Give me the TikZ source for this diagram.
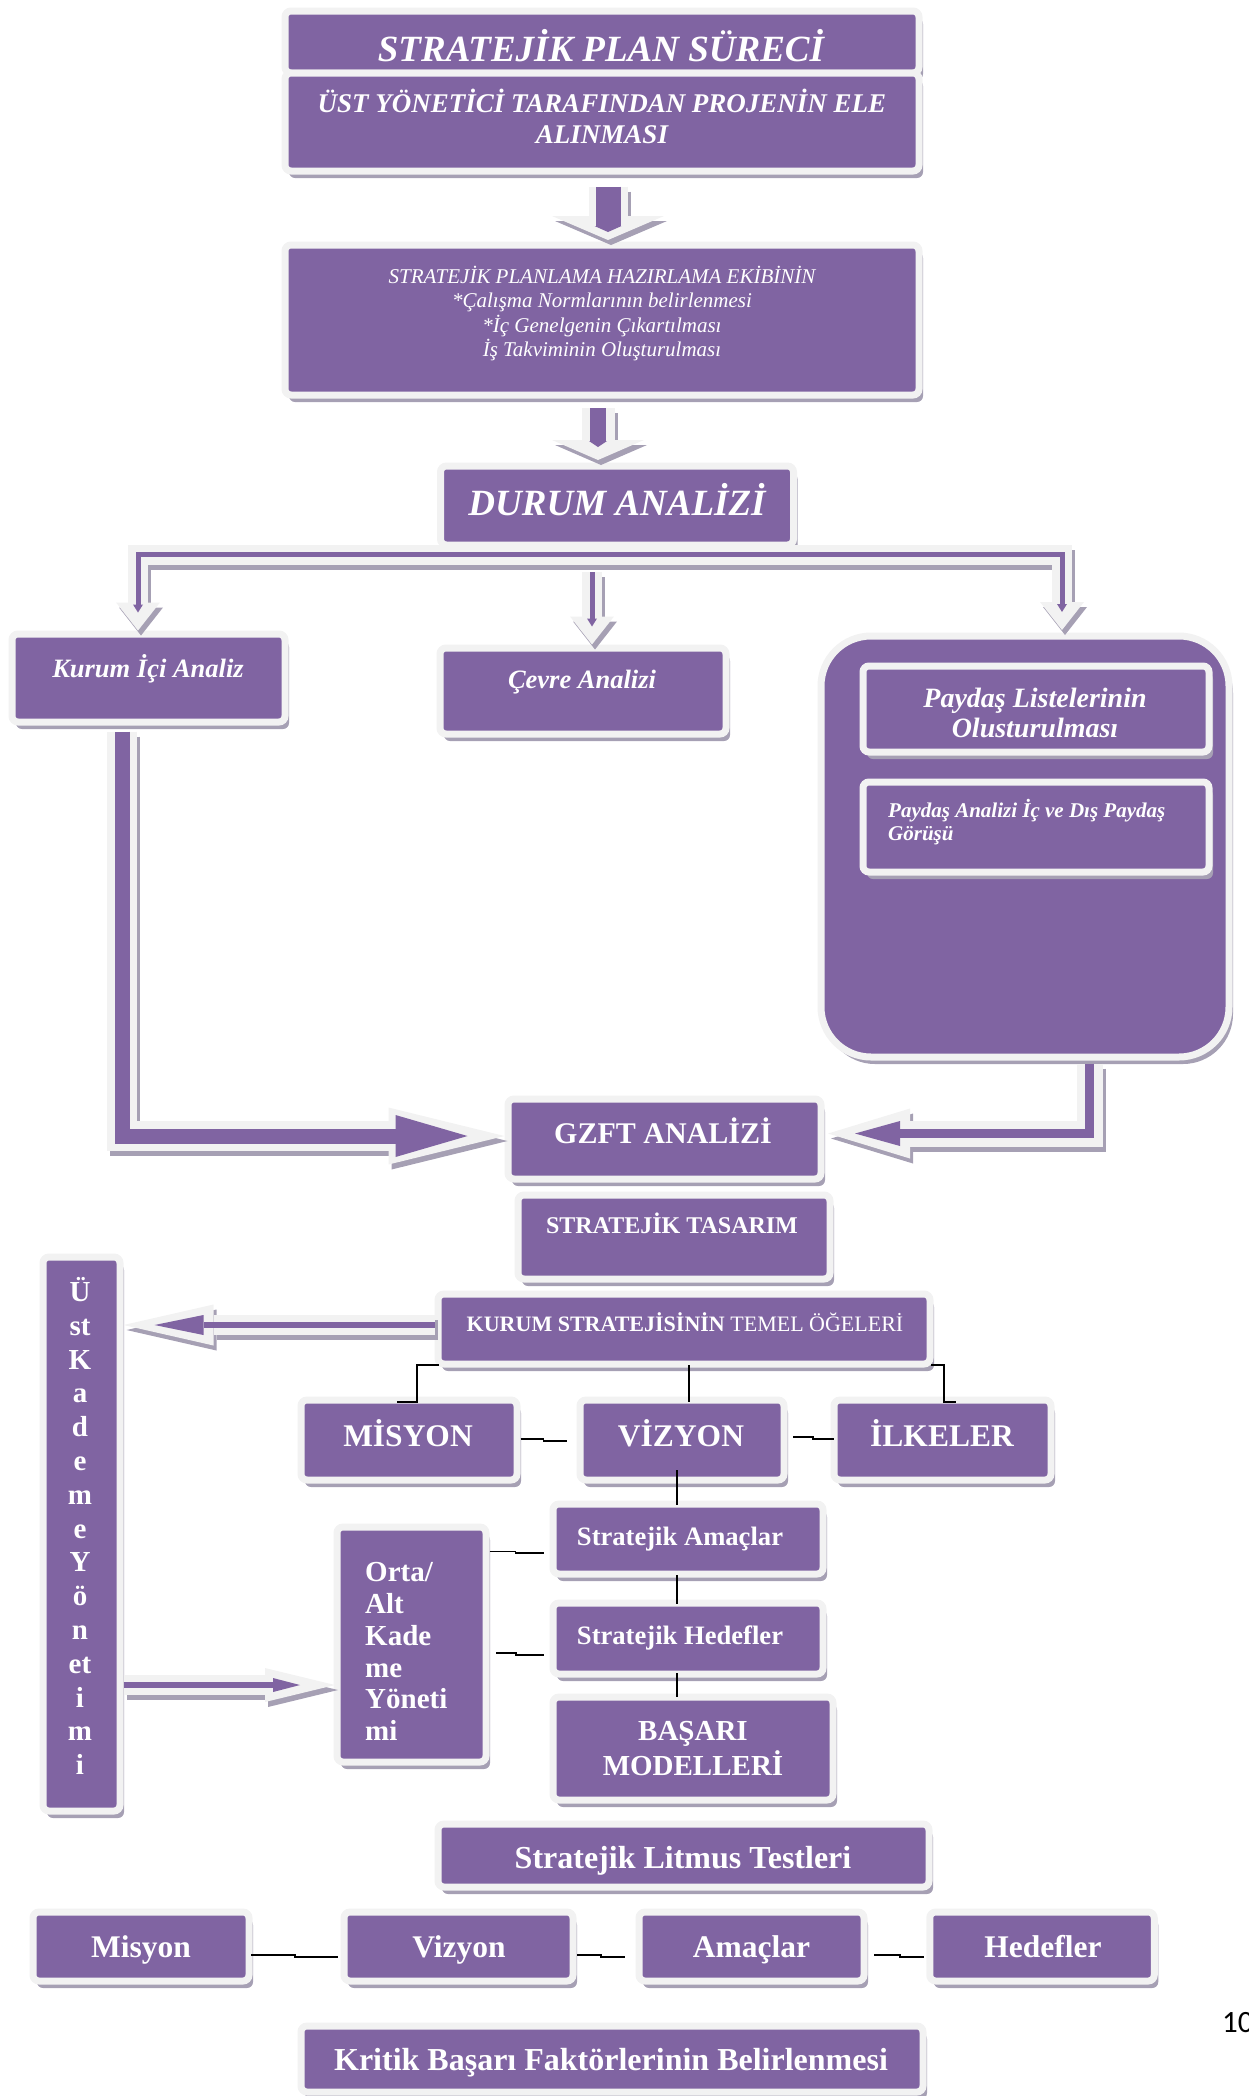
\documentclass[tikz,border=0pt]{standalone}
\usepackage{fontspec}
\setmainfont{Liberation Serif}
\newfontfamily\sayfafont{Carlito}
\usepackage{xcolor}
\usepackage{tikz}
\usetikzlibrary{arrows.meta,shadows}
\definecolor{mor}{RGB}{128,100,162}
\definecolor{kenar}{RGB}{242,242,242}
\definecolor{golge}{RGB}{166,160,180}
\tikzset{ok/.style n args={7}{draw=kenar, line width=#2,
    -{Triangle[width=#5,length=#6,line width=0pt]},
    preaction={draw=golge, line width=#2, -{Triangle[width=#5,length=#6,line width=0pt]},
      transform canvas={shift={(3pt,-5pt)}}},
    postaction={draw=mor, line width=#1, shorten >=#7, -{Triangle[width=#3,length=#4,line width=0pt]}}}}

\begin{document}
\begin{tikzpicture}[x=1pt,y=-1pt]
            \tikzstyle{every node}+=[inner sep=0pt]
            \tikzstyle{kutu}=[rectangle, rounded corners=6pt, fill=mor, draw=kenar, line width=7pt,
              drop shadow={shadow xshift=4pt,shadow yshift=-7pt,fill=golge,opacity=1}]
            \tikzstyle{yazi}=[text=white]
            \tikzstyle{bag}=[draw=black, line width=1.8pt]
            \useasboundingbox (0,0) rectangle (1248,2096);
            \node[kutu, minimum width=634pt, minimum height=62pt] (baslik) at (602,42) {};
            \node[kutu, minimum width=634pt, minimum height=98pt] (ust) at (602,122) {};
            \node[kutu, minimum width=634pt, minimum height=150pt] (ekip) at (602,320) {};
            \node[kutu, minimum width=353pt, minimum height=79pt] (durum) at (617,505.5) {};
            \node[kutu, minimum width=273pt, minimum height=88pt] (kia) at (148.5,678) {};
            \node[kutu, minimum width=286pt, minimum height=86pt] (cevre) at (583,691) {};
            \node[kutu, rounded corners=50pt, minimum width=408pt, minimum height=421pt] (paydas) at (1025,846.5) {};
            \node[kutu, minimum width=346pt, minimum height=86pt] (pl) at (1036,709) {};
            \node[kutu, minimum width=346pt, minimum height=90pt] (pa) at (1036,827) {};
            \node[kutu, minimum width=313pt, minimum height=80pt] (gzft) at (664.5,1139) {};
            \node[kutu, minimum width=312pt, minimum height=84pt] (tasarim) at (674,1237) {};
            \node[kutu, minimum width=492pt, minimum height=70pt] (kurum) at (684,1329) {};
            \node[kutu, minimum width=216pt, minimum height=80pt] (misyon) at (409,1440) {};
            \node[kutu, minimum width=204pt, minimum height=80pt] (vizyon) at (682,1440) {};
            \node[kutu, minimum width=217pt, minimum height=80pt] (ilkeler) at (942.5,1440) {};
            \node[kutu, minimum width=270pt, minimum height=70pt] (amac) at (688,1539) {};
            \node[kutu, minimum width=270pt, minimum height=71pt] (hedef) at (688,1638.5) {};
            \node[kutu, minimum width=280pt, minimum height=103pt] (basari) at (693,1748.5) {};
            \node[kutu, minimum width=149pt, minimum height=235pt] (orta) at (411.5,1644.5) {};
            \node[kutu, minimum width=77pt, minimum height=554pt] (uk) at (81.5,1534) {};
            \node[kutu, minimum width=491pt, minimum height=63pt] (litmus) at (683.5,1855.5) {};
            \node[kutu, minimum width=216pt, minimum height=69pt] (misyon2) at (141,1946.5) {};
            \node[kutu, minimum width=229pt, minimum height=69pt] (vizyon2) at (458.5,1946.5) {};
            \node[kutu, minimum width=225pt, minimum height=69pt] (amaclar2) at (751.5,1946.5) {};
            \node[kutu, minimum width=224.5pt, minimum height=69pt] (hedefler2) at (1042,1946.5) {};
            \node[kutu, minimum width=622pt, minimum height=66pt] (kritik) at (612,2059) {};
            \draw[ok={25pt}{39pt}{27pt}{6pt}{112pt}{24pt}{8pt}] ([xshift=6pt,yshift=-12pt]ust.south) -- ([xshift=6pt,yshift=1.5pt]ekip.north);
            \draw[ok={16pt}{33pt}{18pt}{6pt}{92pt}{20pt}{13pt}] ([xshift=-4pt,yshift=-9.5pt]ekip.south) -- ([xshift=-19pt,yshift=2.5pt]durum.north);
            \draw[ok={5pt}{20pt}{10pt}{8pt}{44pt}{28pt}{18pt}] ([yshift=-6pt]durum.south) -| ([xshift=-10.5pt]kia.north);
            \draw[ok={5pt}{20pt}{10pt}{8pt}{44pt}{28pt}{18pt}] ([yshift=-6pt]durum.south) -| ([xshift=37pt,yshift=2.5pt]paydas.north);
            \draw[ok={5pt}{20pt}{10pt}{8pt}{44pt}{28pt}{18pt}] ([xshift=9pt,yshift=72.5pt]cevre.north) -- ([xshift=9pt]cevre.north);
            \draw[ok={15pt}{30pt}{42pt}{72pt}{57pt}{116pt}{37pt}] ([xshift=-26.5pt,yshift=-6pt]kia.south) |- ([yshift=3pt]gzft.west);
            \draw[ok={9pt}{26pt}{25pt}{45pt}{50pt}{82pt}{27pt}] ([xshift=64.5pt,yshift=-3pt]paydas.south) |- ([xshift=3.5pt,yshift=5.5pt]gzft.east);
            \draw[ok={6pt}{20pt}{20pt}{49pt}{41pt}{90pt}{31pt}] ([yshift=4pt]kurum.west) -- ([yshift=209pt]uk.east);
            \draw[ok={6pt}{20pt}{14pt}{27pt}{34pt}{70pt}{35pt}] ([yshift=-151pt]uk.east) -- ([xshift=1.5pt,yshift=-40.5pt]orta.west);
            \draw[bag] ([xshift=4.5pt,yshift=2.5pt]kurum.south west) -- ++(-22,0) |- ([xshift=-12pt,yshift=-5.5pt]misyon.north);
            \draw[bag] ([xshift=-2.5pt,yshift=2.5pt]kurum.south east) -- ++(13,0) |- ([xshift=13.5pt,yshift=-5.5pt]ilkeler.north);
            \draw[bag] ([xshift=5pt,yshift=2.5pt]kurum.south) -- ([xshift=7pt,yshift=-5.5pt]vizyon.north);
            \draw[bag] ([yshift=1pt]misyon.east) -- ++(23,0) |- ([xshift=-10pt,yshift=-1pt]vizyon.west);
            \draw[bag] ([xshift=5.5pt,yshift=3pt]vizyon.east) -- ++(20,0) |- ([xshift=3.5pt,yshift=1pt]ilkeler.west);
            \draw[bag] ([xshift=-5pt,yshift=13.5pt]vizyon.south) -- ([xshift=-11pt,yshift=-4.5pt]amac.north);
            \draw[bag] ([xshift=-11pt,yshift=2.5pt]amac.south) -- ([xshift=-11pt,yshift=-4.5pt]hedef.north);
            \draw[bag] ([xshift=-11pt,yshift=4.5pt]hedef.south) -- ([xshift=-16pt,yshift=-3.5pt]basari.north);
            \draw[bag] ([yshift=93pt]orta.east) -- ++(26,0) |- ([xshift=-5.5pt,yshift=-14pt]amac.west);
            \draw[bag] ([xshift=6.5pt,yshift=-8.5pt]orta.east) -- ++(20,0) |- ([xshift=-5.5pt,yshift=-16.5pt]hedef.west);
            \draw[bag] ([xshift=-1.5pt,yshift=-8.5pt]misyon2.east) -- ++(44,0) |- ([xshift=-2.5pt,yshift=-10.5pt]vizyon2.west);
            \draw[bag] ([xshift=0.5pt,yshift=-8.5pt]vizyon2.east) -- ++(24,0) |- ([xshift=-10.5pt,yshift=-10.5pt]amaclar2.west);
            \draw[bag] ([xshift=6.5pt,yshift=-8.5pt]amaclar2.east) -- ++(26,0) |- ([xshift=-2.5pt,yshift=-10.5pt]hedefler2.west);
            \node[yazi, anchor=base, font=\fontsize{37pt}{40pt}\selectfont\bfseries\itshape] (baslik-y) at (601,61) {STRATEJİK PLAN SÜRECİ};
            \node[yazi, align=center, font=\fontsize{27pt}{31pt}\selectfont\bfseries\itshape] (ust-y) at (602,116) {ÜST YÖNETİCİ TARAFINDAN PROJENİN ELE\\ALINMASI};
            \node[yazi, align=center, font=\fontsize{21pt}{24.3pt}\selectfont\itshape] (ekip-y) at (602,313.5) {STRATEJİK PLANLAMA HAZIRLAMA EKİBİNİN\\*Çalışma Normlarının belirlenmesi\\*İç Genelgenin Çıkartılması\\İş Takviminin Oluşturulması};
            \node[yazi, anchor=base, font=\fontsize{37pt}{40pt}\selectfont\bfseries\itshape] (durum-y) at (617,515) {DURUM ANALİZİ};
            \node[yazi, anchor=base, font=\fontsize{26.5pt}{30pt}\selectfont\bfseries\itshape] (kia-y) at (148,677) {Kurum İçi Analiz};
            \node[yazi, anchor=base, font=\fontsize{26.5pt}{30pt}\selectfont\bfseries\itshape] (cevre-y) at (582,688) {Çevre Analizi};
            \node[yazi, align=center, font=\fontsize{28pt}{30pt}\selectfont\bfseries\itshape] (pl-y) at (1035,713) {Paydaş Listelerinin\\Olusturulması};
            \node[yazi, anchor=west, align=left, font=\fontsize{21pt}{23pt}\selectfont\bfseries\itshape] (pa-y) at (888,822.5) {Paydaş Analizi İç ve Dış Paydaş\\Görüşü};
            \node[yazi, anchor=base, font=\fontsize{30pt}{34pt}\selectfont\bfseries] (gzft-y) at (663,1143) {GZFT ANALİZİ};
            \node[yazi, anchor=base, font=\fontsize{24pt}{28pt}\selectfont\bfseries] (tasarim-y) at (672,1233) {STRATEJİK TASARIM};
            \node[yazi, anchor=base, font=\fontsize{22pt}{26pt}\selectfont] (kurum-y) at (685,1331) {\textbf{KURUM STRATEJİSİNİN} TEMEL ÖĞELERİ};
            \node[yazi, anchor=base, font=\fontsize{31.5pt}{35pt}\selectfont\bfseries] (misyon-y) at (408,1446) {MİSYON};
            \node[yazi, anchor=base, font=\fontsize{31.5pt}{35pt}\selectfont\bfseries] (vizyon-y) at (681,1446) {VİZYON};
            \node[yazi, anchor=base, font=\fontsize{31.5pt}{35pt}\selectfont\bfseries] (ilkeler-y) at (942,1446) {İLKELER};
            \node[yazi, anchor=base, font=\fontsize{26.6pt}{30pt}\selectfont\bfseries] (amac-y) at (680,1545) {Stratejik Amaçlar};
            \node[yazi, anchor=base, font=\fontsize{26.6pt}{30pt}\selectfont\bfseries] (hedef-y) at (680,1644.5) {Stratejik Hedefler};
            \node[yazi, align=center, font=\fontsize{29pt}{35pt}\selectfont\bfseries] (basari-y) at (693,1748.5) {BAŞARI\\MODELLERİ};
            \node[yazi, anchor=west, align=left, font=\fontsize{29pt}{31.8pt}\selectfont\bfseries] (orta-y) at (365,1651.5) {Orta/\\Alt\\Kade\\me\\Yöneti\\mi};
            \node[yazi, align=center, font=\fontsize{29pt}{33.8pt}\selectfont\bfseries] (uk-y) at (80,1526) {Ü\\st\\K\\a\\d\\e\\m\\e\\Y\\ö\\n\\et\\i\\m\\i};
            \node[yazi, anchor=base, font=\fontsize{32pt}{36pt}\selectfont\bfseries] (litmus-y) at (683,1868) {Stratejik Litmus Testleri};
            \node[yazi, anchor=base, font=\fontsize{31.5pt}{35pt}\selectfont\bfseries] (misyon2-y) at (141,1957) {Misyon};
            \node[yazi, anchor=base, font=\fontsize{31.5pt}{35pt}\selectfont\bfseries] (vizyon2-y) at (459,1957) {Vizyon};
            \node[yazi, anchor=base, font=\fontsize{31.5pt}{35pt}\selectfont\bfseries] (amaclar2-y) at (751.5,1957) {Amaçlar};
            \node[yazi, anchor=base, font=\fontsize{31.5pt}{35pt}\selectfont\bfseries] (hedefler2-y) at (1043,1957) {Hedefler};
            \node[yazi, anchor=base, font=\fontsize{32pt}{36pt}\selectfont\bfseries] (kritik-y) at (611,2070) {Kritik Başarı Faktörlerinin Belirlenmesi};
            \node[anchor=base west, font=\fontsize{31pt}{34pt}\selectfont\sayfafont] (sayfa) at (1222,2032) {10};
        \end{tikzpicture}
\end{document}
